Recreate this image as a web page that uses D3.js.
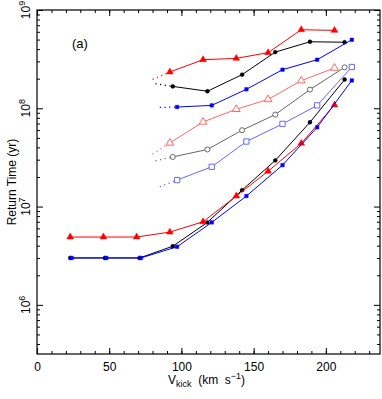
<html>
<head>
<script src="https://cdn.jsdelivr.net/npm/d3@7/dist/d3.min.js"></script>
<style>
body { margin: 0; background: #fff; }
svg { font-family: "Liberation Sans", Arial, sans-serif; }
</style>
</head>
<body>
<svg width="382" height="399"></svg>
<script>
// kick velocities of each model grid (km/s)
var vRed = [23, 46, 69, 92, 115, 138, 160, 183, 206];
var vBlack = [23, 47, 71, 94, 118, 142, 165, 189, 213];
var vBlue = [24, 48, 72, 97, 121, 145, 170, 194, 218];

// lower family (filled symbols)
var lowRed = [4.9e6, 4.9e6, 4.9e6, 5.5e6, 7.0e6, 1.28e7, 2.29e7, 4.4e7, 1.08e8];
var lowBlack = [3e6, 3e6, 3e6, 3.95e6, 6.9e6, 1.47e7, 2.95e7, 7.2e7, 1.96e8];
var lowBlue = [3e6, 3e6, 3e6, 3.9e6, 6.9e6, 1.28e7, 2.64e7, 6.4e7, 1.92e8];

// upper family, starting at the 4th velocity
var upRed = [2.34e8, 3.12e8, 3.22e8, 3.68e8, 6.3e8, 6.2e8];
var upBlack = [1.67e8, 1.49e8, 2.2e8, 3.73e8, 4.75e8, 4.7e8];
var upBlue = [1.03e8, 1.07e8, 1.56e8, 2.47e8, 3.12e8, 4.98e8];
var openTri = [4.44e7, 7.26e7, 9.77e7, 1.23e8, 1.91e8, 2.57e8];
var openCirc = [3.2e7, 3.81e7, 5.98e7, 8.63e7, 1.55e8, 2.61e8];
var openSq = [1.86e7, 2.54e7, 4.59e7, 6.93e7, 1.07e8, 2.63e8];

// dotted lead-in start points [v, value]
var leadRed = [80, 1.97e8], leadBlack = [82, 1.78e8], leadBlue = [85, 1.02e8];
var leadTri = [80, 3.41e7], leadCirc = [82, 2.92e7], leadSq = [85, 1.59e7];

var xMajor = [0, 50, 100, 150, 200];
var yMajor = [6, 7, 8, 9];

var svg = d3.select("svg");
var x = d3.scaleLinear().domain([0, 237.5]).range([37, 380]);
var y = d3.scaleLog().domain([Math.pow(10, 5.5), 1e9]).range([354, 10]);

var xMinor = d3.range(0, 240, 10);
var yMinor = [];
for (var d = 5; d <= 8; d++) {
  for (var m = 2; m <= 9; m++) {
    var v = m * Math.pow(10, d);
    if (v > Math.pow(10, 5.5)) yMinor.push(v);
  }
}

function axisG(axis, tx, ty) {
  var g = svg.append("g").attr("transform", "translate(" + tx + "," + ty + ")").call(axis);
  g.select(".domain").remove();
  g.selectAll("line").attr("stroke", "#000");
  return g;
}

// bottom
axisG(d3.axisBottom(x).tickValues(xMinor).tickSize(-3).tickFormat(""), 0, 354);
var bx = axisG(d3.axisBottom(x).tickValues(xMajor).tickSize(-6).tickPadding(8).tickFormat(d3.format("d")), 0, 354);
bx.selectAll("text").attr("font-size", 12).attr("fill", "#000").attr("font-family", "Liberation Sans, Arial, sans-serif");
// top
axisG(d3.axisTop(x).tickValues(xMinor).tickSize(-3).tickFormat(""), 0, 10);
axisG(d3.axisTop(x).tickValues(xMajor).tickSize(-6).tickFormat(""), 0, 10);
// left / right
axisG(d3.axisLeft(y).tickValues(yMinor).tickSize(-3).tickFormat(""), 37, 0);
axisG(d3.axisLeft(y).tickValues(yMajor.map(function (e) { return Math.pow(10, e); })).tickSize(-6).tickFormat(""), 37, 0);
axisG(d3.axisRight(y).tickValues(yMinor).tickSize(-3).tickFormat(""), 380, 0);
axisG(d3.axisRight(y).tickValues(yMajor.map(function (e) { return Math.pow(10, e); })).tickSize(-6).tickFormat(""), 380, 0);

svg.append("rect").attr("x", 37).attr("y", 10).attr("width", 343).attr("height", 344)
  .attr("fill", "none").attr("stroke", "#000").attr("stroke-width", 1.2);

// y tick labels 10^n, rotated
yMajor.forEach(function (e) {
  var t = svg.append("text")
    .attr("transform", "translate(30," + y(Math.pow(10, e)) + ") rotate(-90)")
    .attr("text-anchor", "middle").attr("font-size", 12);
  t.append("tspan").text("10");
  t.append("tspan").attr("dy", -5).attr("font-size", 9).text(e);
});

svg.append("text").attr("transform", "translate(16,182) rotate(-90)")
  .attr("text-anchor", "middle").attr("font-size", 12).text("Return Time (yr)");

var xl = svg.append("text").attr("x", 168).attr("y", 384).attr("font-size", 12)
  .attr("xml:space", "preserve").style("white-space", "pre");
xl.append("tspan").text("V");
xl.append("tspan").attr("dy", 3).attr("font-size", 9).text("kick");
xl.append("tspan").attr("dy", -3).text("  (km  s");
xl.append("tspan").attr("dy", -5).attr("font-size", 9).text("\u22121");
xl.append("tspan").attr("dy", 5).text(")");

svg.append("text").attr("x", 72).attr("y", 48).attr("font-size", 13).text("(a)");

var line = d3.line().x(function (p) { return x(p[0]); }).y(function (p) { return y(p[1]); });

function series(vs, vals, color, sym, size, filled, lead) {
  var pts = vals.map(function (val, i) { return [vs[vs.length - vals.length + i], val]; });
  if (lead) {
    svg.append("path").attr("d", line([lead, pts[0]])).attr("fill", "none")
      .attr("stroke", color).attr("stroke-width", 1.2).attr("stroke-dasharray", "1.2,3.5");
  }
  svg.append("path").attr("d", line(pts)).attr("fill", "none")
    .attr("stroke", color).attr("stroke-width", 1);
  svg.selectAll(null).data(pts).enter().append("path")
    .attr("transform", function (p) { return "translate(" + x(p[0]) + "," + y(p[1]) + ")"; })
    .attr("d", d3.symbol().type(sym).size(size))
    .attr("fill", filled ? color : "#fff")
    .attr("stroke", color).attr("stroke-width", filled ? 0.5 : 1);
}

// upper family
series(vRed, openTri, "#ff6666", d3.symbolTriangle, 26, false, leadTri);
series(vBlack, openCirc, "#666666", d3.symbolCircle, 20, false, leadCirc);
series(vBlue, openSq, "#6666ff", d3.symbolSquare, 28, false, leadSq);
series(vRed, upRed, "#ff0000", d3.symbolTriangle, 20, true, leadRed);
series(vBlack, upBlack, "#000000", d3.symbolCircle, 12, true, leadBlack);
series(vBlue, upBlue, "#0000ff", d3.symbolSquare, 12, true, leadBlue);

// lower family
series(vBlack, lowBlack, "#000000", d3.symbolCircle, 12, true, null);
series(vRed, lowRed, "#ff0000", d3.symbolTriangle, 20, true, null);
series(vBlue, lowBlue, "#0000ff", d3.symbolSquare, 12, true, null);
</script>
</body>
</html>
